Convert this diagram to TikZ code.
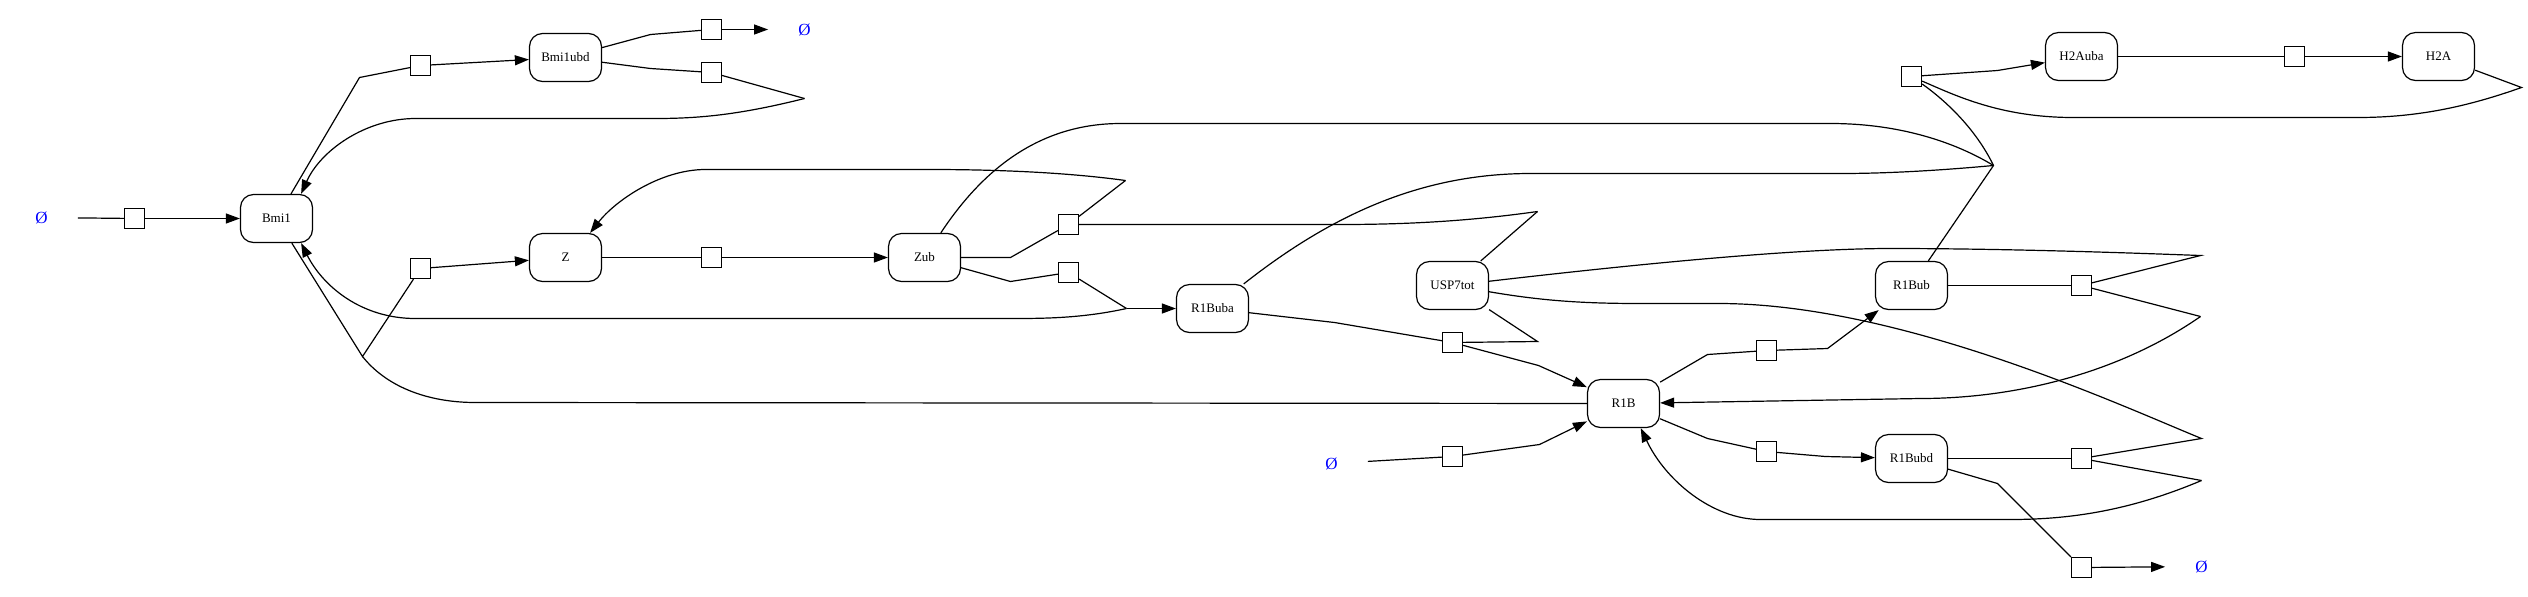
\documentclass[tikz,border=0pt]{standalone}
\usepackage{fontspec}
\setmainfont{Liberation Serif}
\usetikzlibrary{arrows.meta}
\begin{document}
\begin{tikzpicture}[x=0.5pt,y=-0.5pt,
  species/.style={draw, rounded corners=6.5pt, minimum width=36pt, minimum height=24pt, inner sep=0pt, font=\fontsize{6.5}{7}\selectfont, line width=0.6pt},
  rxn/.style={draw, fill=white, minimum size=10pt, inner sep=0pt, line width=0.6pt},
  emptyset/.style={minimum width=36pt, minimum height=24pt, inner sep=0pt, text=blue, font=\fontsize{8.5}{9}\selectfont},
  conn/.style={line width=0.6pt},
  arr/.style={conn, -{Triangle[length=7pt,width=5pt]}}
]
\useasboundingbox (-0.5,-0.5) rectangle (2527.5,595.5);

% species
\node[species] (Bmi1) at (276,218) {Bmi1};
\node[species] (Bmi1ubd) at (565,57) {Bmi1ubd};
\node[species] (Z) at (565,257) {Z};
\node[species] (Zub) at (924,257) {Zub};
\node[species] (R1Buba) at (1212,308) {R1Buba};
\node[species] (USP7tot) at (1452,285) {USP7tot};
\node[species] (R1B) at (1623,403) {R1B};
\node[species] (R1Bub) at (1911,285) {R1Bub};
\node[species] (R1Bubd) at (1911,458) {R1Bubd};
\node[species] (H2Auba) at (2081,56) {H2Auba};
\node[species] (H2A) at (2438,56) {H2A};

% empty sets
\node[emptyset] (e1) at (41,217) {Ø};
\node[emptyset] (e2) at (804,29) {Ø};
\node[emptyset] (e3) at (1331,463) {Ø};
\node[emptyset] (e4) at (2201,566) {Ø};

% reactions
\node[rxn] (r1) at (134,218) {};
\node[rxn] (r2) at (420,65) {};
\node[rxn] (r3) at (420,268) {};
\node[rxn] (r4) at (711,29) {};
\node[rxn] (r5) at (711,72) {};
\node[rxn] (r6) at (711,257) {};
\node[rxn] (r7) at (1068,224) {};
\node[rxn] (r8) at (1068,272) {};
\node[rxn] (r9) at (1452,342) {};
\node[rxn] (r10) at (1452,456) {};
\node[rxn] (r11) at (1766,350) {};
\node[rxn] (r12) at (1766,451) {};
\node[rxn] (r13) at (2081,285) {};
\node[rxn] (r14) at (2081,458) {};
\node[rxn] (r15) at (2081,567) {};
\node[rxn] (r16) at (1911,76) {};
\node[rxn] (r17) at (2294,56) {};

% junctions
\coordinate (j3) at (362,356);
\coordinate (j5) at (804,98);
\coordinate (j7a) at (1125,180);
\coordinate (j7b) at (1537,211);
\coordinate (j8) at (1126,308);
\coordinate (j9) at (1537,341);
\coordinate (j13a) at (2200,255);
\coordinate (j13b) at (2200,316);
\coordinate (j14a) at (2201,438);
\coordinate (j14b) at (2201,480);
\coordinate (j16) at (1993,165);
\coordinate (j16b) at (2521,87);

% reaction 1
\draw[conn] (e1) -- (r1);
\draw[arr] (r1) -- (Bmi1);
% reaction 2
\draw[conn] (Bmi1) -- (359,77) -- (r2);
\draw[arr] (r2) -- (Bmi1ubd);
% reaction 3
\draw[conn] (Bmi1) -- (j3) -- (r3);
\draw[conn] (R1B) -- (475,402) .. controls (425,402) and (385,385) .. (j3);
\draw[arr] (r3) -- (Z);
% reaction 4
\draw[conn] (Bmi1ubd) -- (650,34) -- (r4);
\draw[arr] (r4) -- (e2);
% reaction 5
\draw[conn] (Bmi1ubd) -- (650,68) -- (r5) -- (j5);
\draw[arr] (j5) .. controls (740,114) and (700,118) .. (655,118) -- (415,118) .. controls (365,118) and (320,150) .. (Bmi1.45);
% reaction 6
\draw[conn] (Z) -- (r6);
\draw[arr] (r6) -- (Zub);
% reaction 7
\draw[conn] (Zub) -- (1010,257) -- (r7) -- (j7a);
\draw[arr] (j7a) .. controls (1060,171) and (985,169) .. (930,169) -- (705,169) .. controls (660,169) and (615,200) .. (Z.45);
\draw[conn] (r7) -- (1340,224) .. controls (1420,224) and (1480,219) .. (j7b);
\draw[conn] (USP7tot) -- (j7b);
% reaction 8
\draw[conn] (Zub) -- (1010,281) -- (r8) -- (j8);
\draw[arr] (j8) -- (R1Buba);
\draw[arr] (j8) .. controls (1085,317) and (1050,318) .. (1015,318) -- (415,318) .. controls (360,318) and (322,285) .. (Bmi1.-45);
% reaction 9
\draw[conn] (R1Buba) -- (1334,322) -- (r9);
\draw[conn] (USP7tot) -- (j9) -- (r9);
\draw[arr] (r9) -- (1538,365) -- (R1B);
% reaction 10
\draw[conn] (e3) -- (r10);
\draw[arr] (r10) -- (1539,444) -- (R1B);
% reaction 11
\draw[conn] (R1B) -- (1707,354) -- (r11);
\draw[arr] (r11) -- (1827,348) -- (R1Bub);
% reaction 12
\draw[conn] (R1B) -- (1707,438) -- (r12);
\draw[arr] (r12) -- (1825,456) -- (R1Bubd);
% reaction 13
\draw[conn] (R1Bub) -- (r13);
\draw[conn] (USP7tot) .. controls (1650,262) and (1800,248) .. (1890,248) .. controls (2000,248) and (2120,252) .. (j13a) -- (r13);
\draw[conn] (r13) -- (j13b);
\draw[arr] (j13b) .. controls (2115,375) and (2010,398) .. (1920,398) -- (R1B);
% reaction 14
\draw[conn] (R1Bubd) -- (r14);
\draw[conn] (USP7tot) .. controls (1540,300) and (1580,303) .. (1640,303) -- (1718,303) .. controls (1900,303) and (2120,405) .. (j14a) -- (r14);
\draw[conn] (r14) -- (j14b);
\draw[arr] (j14b) .. controls (2130,510) and (2070,519) .. (2010,519) -- (1760,519) .. controls (1712,519) and (1665,480) .. (R1B.-55);
% reaction 15
\draw[conn] (R1Bubd) -- (1997,483) -- (r15);
\draw[arr] (r15) -- (e4);
% reaction 16
\draw[conn] (R1Buba) .. controls (1330,215) and (1420,173) .. (1530,173) -- (1840,173) .. controls (1900,173) and (1960,168) .. (j16);
\draw[conn] (Zub) .. controls (975,180) and (1030,123) .. (1120,123) -- (1830,123) .. controls (1900,123) and (1955,142) .. (j16);
\draw[conn] (R1Bub) -- (j16) .. controls (1975,128) and (1945,100) .. (r16);
\draw[arr] (r16) -- (1997,70) -- (H2Auba);
\draw[conn] (H2A) -- (j16b) .. controls (2470,105) and (2420,117) .. (2357,117) -- (2073,117) .. controls (2000,117) and (1955,95) .. (r16);
% reaction 17
\draw[conn] (H2Auba) -- (r17);
\draw[arr] (r17) -- (H2A);
\end{tikzpicture}
\end{document}
